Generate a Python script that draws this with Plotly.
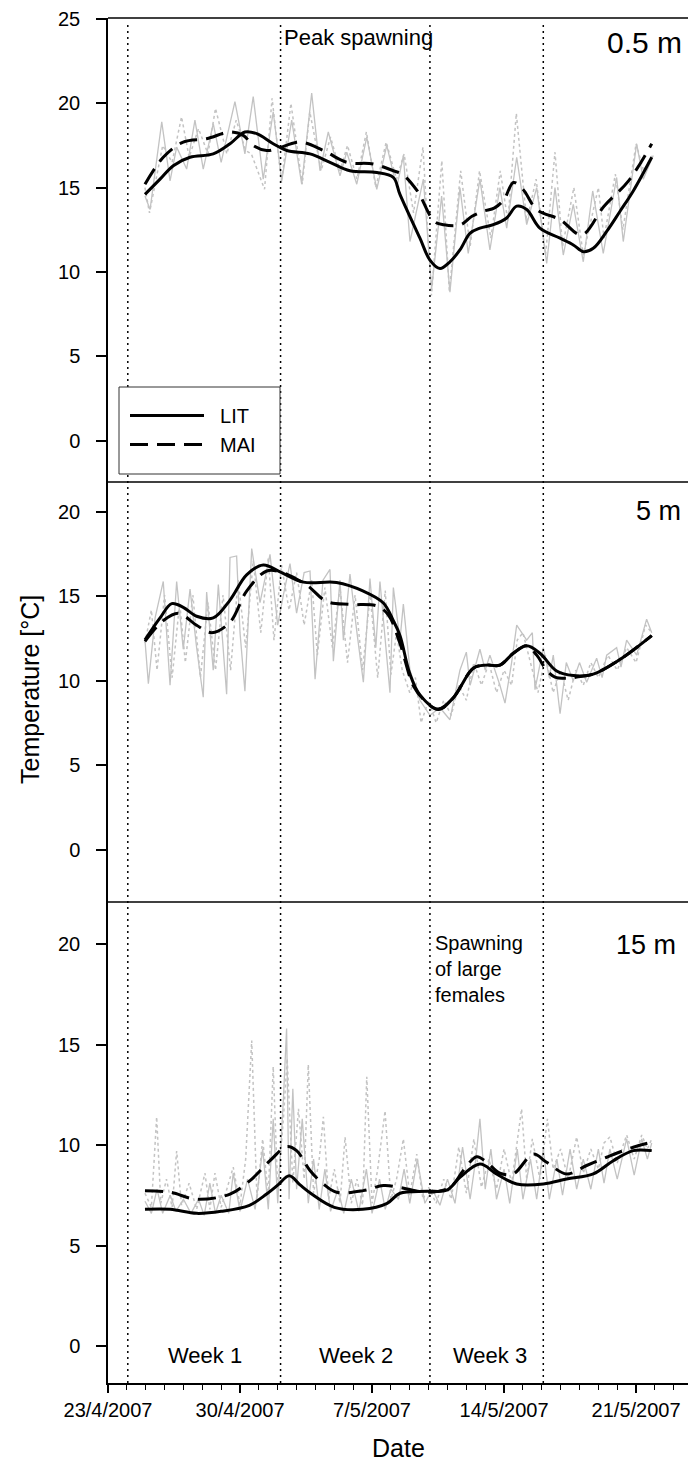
import pandas as pd
import plotly.graph_objects as go

START = pd.Timestamp("2007-04-23")


def to_dates(days):
    return [START + pd.Timedelta(days=float(d)) for d in days]


# ---------------- data (days since 23/4/2007 00:00, temperature in degC) -----------
# 0.5 m
p1_lit_day = [1.96, 2.76, 3.46, 4.35, 5.58, 6.47, 7.26, 7.88, 8.76, 9.48, 10.71, 11.77, 12.83, 14.25,
              15.13, 15.48, 16.54, 17.07, 17.6, 18.13, 18.66, 19.2, 19.72, 20.43, 21.14, 21.67, 22.2,
              22.9, 23.97, 24.67, 25.2, 25.73, 26.44, 27.15, 27.85, 28.83]
p1_lit_temp = [14.6, 15.5, 16.3, 16.8, 17.0, 17.6, 18.3, 18.2, 17.6, 17.2, 17.0, 16.5, 16.0, 15.9,
               15.6, 14.6, 12.0, 10.7, 10.2, 10.6, 11.3, 12.3, 12.6, 12.8, 13.2, 13.9, 13.7,
               12.6, 12.0, 11.6, 11.2, 11.4, 12.4, 13.6, 14.8, 16.8]
p1_mai_day = [1.96, 2.93, 3.99, 5.23, 6.47, 7.17, 7.7, 8.41, 8.94, 10.18, 11.42, 12.66, 14.07, 15.13,
              15.6, 16.4, 17.3, 17.8, 18.7, 19.3, 19.9, 20.5, 21.0, 21.5, 22.0, 22.73, 23.97, 25.12,
              26.3, 27.6, 28.83]
p1_mai_temp = [15.2, 16.8, 17.7, 17.9, 18.3, 18.1, 17.5, 17.2, 17.3, 17.7, 17.2, 16.5, 16.4, 16.0,
               15.8, 14.8, 13.0, 12.8, 12.8, 13.3, 13.6, 13.8, 14.3, 15.3, 14.9, 13.7, 13.1, 12.2,
               13.9, 15.4, 17.6]
p1_lit_raw_day = [1.96, 2.23, 2.85, 3.29, 3.64, 4.17, 4.61, 5.05, 5.58, 6.0, 6.73, 7.26, 7.7, 8.23,
                  8.76, 9.21, 9.74, 10.27, 10.8, 11.24, 11.68, 12.3, 12.66, 13.19, 13.72, 14.25,
                  14.78, 15.31, 15.66, 16.01, 16.72, 17.16, 17.69, 18.13, 18.66, 19.1, 19.72, 20.25,
                  20.78, 21.14, 21.67, 22.2, 22.73, 23.26, 23.7, 24.14, 24.67, 25.2, 25.7, 26.26,
                  26.97, 27.32, 28.03, 28.38, 28.91]
p1_lit_raw_temp = [14.5, 13.7, 18.9, 15.4, 17.4, 16.1, 19.0, 16.1, 18.8, 16.5, 20.1, 17.0, 20.4, 15.5,
                   19.5, 15.4, 19.0, 15.2, 20.6, 16.0, 18.3, 15.7, 17.1, 15.2, 18.0, 14.9,
                   17.5, 15.0, 16.9, 11.8, 15.5, 9.0, 14.5, 8.8, 15.0, 11.1, 15.5, 11.3,
                   15.0, 12.6, 16.8, 12.8, 15.0, 10.5, 15.0, 11.0, 14.0, 10.6, 14.8, 11.1,
                   15.6, 11.8, 17.6, 15.5, 16.9]
p1_mai_raw_day = [1.96, 2.2, 2.9, 3.4, 3.9, 4.3, 4.8, 5.3, 5.7, 6.3, 6.8, 7.3, 7.6, 8.3, 8.7, 9.2,
                  9.7, 10.3, 10.7, 11.3, 11.8, 12.3, 12.7, 13.2, 13.7, 14.2, 14.75, 15.3, 15.7, 16.2,
                  16.7, 17.15, 17.7, 18.1, 18.7, 19.2, 19.7, 20.3, 20.8, 21.2, 21.65, 22.2, 22.7,
                  23.2, 23.7, 24.1, 24.7, 25.2, 26.0, 26.3, 26.9, 27.3, 28.0, 28.4, 28.9]
p1_mai_raw_temp = [15.0, 13.5, 17.5, 16.5, 19.2, 16.8, 18.5, 17.0, 19.7, 17.0, 19.0, 17.2, 17.0, 14.9,
                   20.3, 15.3, 20.0, 15.2, 19.5, 16.0, 18.0, 16.0, 17.5, 15.5, 18.3, 15.0, 17.7,
                   15.5, 17.0, 13.5, 17.4, 8.6, 16.6, 8.8, 16.0, 11.5, 16.0, 12.0, 16.0, 13.0,
                   19.4, 13.0, 15.5, 11.0, 17.1, 11.5, 15.0, 11.0, 15.0, 12.0, 15.8, 12.5, 17.6,
                   16.0, 17.0]

# 5 m
p2_lit_day = [1.96, 2.76, 3.38, 3.99, 4.7, 5.58, 6.47, 7.35, 8.23, 9.12, 10.36, 12.12, 13.54, 14.6,
              15.13, 15.48, 16.01, 16.54, 17.51, 18.31, 19.37, 20.08, 20.78, 21.49, 22.2, 22.9, 23.79,
              24.67, 25.73, 27.15, 28.83]
p2_lit_temp = [12.4, 13.7, 14.55, 14.33, 13.8, 13.7, 14.76, 16.25, 16.83, 16.43, 15.82, 15.8, 15.29,
               14.59, 13.54, 12.66, 10.38, 9.15, 8.31, 8.98, 10.73, 10.91, 10.91, 11.61, 12.05,
               11.61, 10.56, 10.29, 10.38, 11.25, 12.66]
p2_mai_day = [1.96, 2.93, 3.73, 4.7, 5.5, 6.47, 7.35, 8.41, 9.12, 10.54, 11.6, 12.83, 14.25, 14.86,
              15.48, 16.19, 16.72, 17.51, 18.31, 19.37, 20.08, 20.78, 21.49, 22.2, 22.73, 23.26, 23.7,
              24.3, 24.85, 25.73, 27.15, 28.83]
p2_mai_temp = [12.31, 13.54, 13.98, 13.27, 12.83, 13.45, 15.29, 16.48, 16.43, 15.64, 14.67, 14.5,
               14.41, 13.89, 12.2, 9.68, 8.89, 8.28, 8.98, 10.73, 10.91, 10.91, 11.61, 12.05, 11.5,
               10.6, 10.2, 10.13, 10.2, 10.38, 11.25, 12.66]
p2_lit_raw_day = [1.96, 2.14, 2.5, 2.93, 3.29, 3.64, 3.99, 4.35, 4.7, 5.05, 5.23, 5.58, 5.85, 6.29,
                  6.47, 6.82, 7.0, 7.26, 7.62, 8.06, 8.59, 9.0, 9.3, 9.65, 10.0, 10.4, 10.71, 10.98,
                  11.4, 11.77, 11.95, 12.3, 12.48, 12.83, 13.2, 13.54, 13.89, 14.2, 14.42, 14.95,
                  15.13, 15.48, 15.66, 16.01, 16.54, 17.07, 17.6, 18.13, 18.66, 19.0, 19.2, 19.72,
                  20.0, 20.25, 20.78, 21.05, 21.4, 21.67, 22.2, 22.5, 22.64, 23.08, 23.4, 23.61,
                  23.97, 24.3, 24.67, 25.0, 25.38, 25.91, 26.2, 26.44, 26.97, 27.2, 27.5, 28.03,
                  28.56, 28.83]
p2_lit_raw_temp = [12.39, 9.81, 13.72, 15.86, 9.72, 15.86, 11.85, 15.41, 11.94, 9.01, 15.23, 10.61,
                   15.68, 9.19, 17.28, 17.37, 12.83, 9.37, 17.81, 14.61, 17.46, 13.28, 15.06, 16.92,
                   13.99, 16.39, 16.48, 10.08, 15.94, 16.57, 11.14, 15.94, 12.39, 16.3, 12.83, 9.9,
                   16.03, 11.94, 15.86, 9.28, 15.5, 12.39, 14.52, 10.61, 8.83, 7.94, 8.39, 7.68,
                   10.61, 11.68, 9.72, 11.85, 10.61, 11.5, 9.72, 8.66, 11.06, 13.28, 12.39, 12.83,
                   9.46, 11.94, 10.17, 11.5, 8.03, 11.06, 9.99, 11.06, 9.9, 11.32, 10.17, 11.5,
                   11.94, 10.79, 12.39, 11.5, 13.63, 12.83]
p2_mai_raw_day = [1.96, 2.3, 2.6, 3.0, 3.4, 3.8, 4.1, 4.5, 4.9, 5.3, 5.7, 6.1, 6.5, 6.9, 7.3, 7.7,
                  8.1, 8.5, 8.8, 9.2, 9.6, 10.0, 10.4, 10.8, 11.1, 11.5, 11.9, 12.3, 12.7, 13.1,
                  13.5, 13.9, 14.3, 14.7, 15.0, 15.3, 15.6, 16.0, 16.3, 16.6, 17.0, 17.4, 17.8,
                  18.2, 18.6, 19.0, 19.4, 19.8, 20.2, 20.6, 21.0, 21.4, 21.7, 22.0, 22.4, 22.8,
                  23.2, 23.6, 24.0, 24.4, 24.8, 25.2, 25.6, 26.0, 26.5, 27.0, 27.5, 28.0, 28.5,
                  28.83]
p2_mai_raw_temp = [12.21, 14.17, 10.61, 15.06, 10.17, 14.61, 11.06, 15.06, 10.17, 14.61, 10.61, 15.06,
                   10.61, 15.94, 11.94, 17.1, 12.83, 17.28, 12.39, 16.83, 14.17, 16.39, 13.28, 15.94,
                   11.5, 15.5, 11.94, 15.5, 11.06, 15.06, 10.61, 15.06, 10.17, 15.32, 10.34, 12.83,
                   10.61, 9.28, 10.17, 7.5, 8.83, 7.5, 8.83, 7.94, 9.72, 8.83, 11.06, 9.72, 11.06,
                   9.28, 10.61, 9.72, 12.39, 12.83, 11.06, 9.28, 11.5, 9.28, 10.61, 8.83, 10.61,
                   9.72, 11.06, 10.17, 11.5, 10.61, 11.94, 11.06, 13.28, 12.83]

# 15 m
p3_lit_day = [1.96, 3.3, 4.7, 6.0, 7.5, 8.41, 9.0, 9.61, 10.2, 10.8, 12.0, 13.5, 14.8, 15.48, 16.9,
              17.96, 18.66, 19.72, 20.6, 21.67, 23.08, 24.32, 25.73, 26.79, 27.85, 28.83]
p3_lit_temp = [6.8, 6.8, 6.6, 6.7, 7.0, 7.56, 8.0, 8.47, 8.0, 7.56, 6.9, 6.8, 7.1, 7.6, 7.7,
               7.75, 8.39, 9.05, 8.56, 8.06, 8.06, 8.31, 8.56, 9.22, 9.72, 9.72]
p3_mai_day = [1.96, 3.29, 4.7, 6.47, 7.53, 8.59, 9.47, 10.0, 10.71, 11.42, 12.12, 13.54, 14.6, 15.48,
              16.9, 18.13, 18.84, 19.55, 20.08, 20.78, 21.49, 22.55, 23.26, 24.32, 25.38, 26.44,
              27.85, 28.83]
p3_mai_temp = [7.73, 7.65, 7.3, 7.56, 8.23, 9.22, 9.92, 9.72, 8.73, 8.06, 7.65, 7.73, 7.98, 7.89,
               7.65, 7.89, 8.73, 9.42, 9.14, 8.6, 8.56, 9.55, 9.14, 8.56, 8.98, 9.39, 9.89, 10.14]
p3_lit_raw_day = [1.96, 2.3, 2.6, 2.9, 3.3, 3.6, 4.0, 4.4, 4.8, 5.1, 5.4, 5.7, 6.0, 6.4, 6.64, 7.0,
                  7.4, 7.8, 8.2, 8.5, 8.76, 9.0, 9.3, 9.47, 9.6, 9.8, 10.0, 10.3, 10.62, 10.9,
                  11.2, 11.5, 11.8, 12.2, 12.5, 12.9, 13.3, 13.7, 14.0, 14.4, 14.7, 15.0, 15.4,
                  15.7, 16.0, 16.4, 16.8, 17.2, 17.6, 18.0, 18.4, 18.8, 19.2, 19.5, 19.72, 20.0,
                  20.3, 20.6, 21.0, 21.3, 21.7, 22.0, 22.4, 22.73, 23.08, 23.4, 23.8, 24.1, 24.5,
                  24.85, 25.2, 25.6, 26.0, 26.3, 26.61, 27.0, 27.5, 27.9, 28.3, 28.6, 28.83]
p3_lit_raw_temp = [7.2, 6.6, 7.8, 6.6, 7.5, 6.7, 7.3, 6.6, 7.3, 6.5,
                   8.1, 6.6, 7.5, 6.6, 8.6, 6.7, 8.3, 6.8, 9.8, 6.8,
                   11.3, 7.1, 12.3, 15.8, 7.3, 12.8, 7.8, 11.3, 7.1, 9.3,
                   6.8, 8.8, 6.7, 7.8, 6.6, 8.3, 6.7, 8.8, 6.6, 8.3,
                   6.8, 7.8, 7.3, 8.8, 7.1, 9.3, 7.1, 7.8, 7.0, 8.3,
                   7.1, 9.9, 7.3, 9.3, 11.3, 7.8, 9.8, 7.3, 8.8, 7.1,
                   9.8, 7.3, 9.3, 7.3, 9.8, 7.3, 9.3, 7.5, 9.8, 7.8,
                   9.3, 7.8, 9.8, 8.1, 9.8, 8.3, 10.3, 8.5, 10.3, 9.3,
                   10.1]
p3_mai_raw_day = [1.96, 2.3, 2.58, 2.8, 3.1, 3.4, 3.64, 3.9, 4.3, 4.7, 5.14, 5.4, 5.67, 6.0, 6.3,
                  6.64, 7.0, 7.3, 7.62, 7.9, 8.2, 8.5, 8.76, 9.0, 9.3, 9.5, 9.8, 10.1, 10.4, 10.62,
                  10.9, 11.2, 11.42, 11.7, 12.0, 12.3, 12.57, 12.9, 13.2, 13.5, 13.72, 14.0, 14.3,
                  14.69, 15.0, 15.3, 15.66, 16.0, 16.37, 16.7, 17.0, 17.4, 17.8, 18.2, 18.6, 19.0,
                  19.4, 19.8, 20.2, 20.6, 21.0, 21.4, 21.93, 22.2, 22.5, 22.9, 23.3, 23.6, 24.0,
                  24.4, 24.85, 25.2, 25.6, 26.0, 26.3, 26.61, 27.0, 27.5, 27.9, 28.3, 28.6, 28.83]
p3_mai_raw_temp = [7.6, 6.9, 11.4, 7.1, 8.3, 6.9, 9.7, 7.0, 8.1, 6.8,
                   8.6, 6.8, 8.6, 6.9, 7.8, 8.9, 7.0, 9.3, 15.2, 7.3,
                   10.3, 7.5, 13.9, 7.8, 11.3, 14.3, 8.1, 11.8, 8.3, 14.0,
                   7.6, 9.3, 11.4, 7.3, 8.8, 7.1, 10.4, 7.1, 8.3, 7.0,
                   13.4, 7.1, 8.8, 11.7, 7.3, 8.3, 10.3, 7.5, 9.55, 7.3,
                   7.9, 7.1, 8.3, 7.3, 9.9, 7.6, 10.3, 7.9, 9.3, 7.8,
                   9.8, 8.1, 11.8, 8.3, 10.3, 8.3, 11.3, 8.8, 9.8, 8.3,
                   10.4, 8.6, 9.8, 8.8, 10.1, 10.4, 9.1, 10.5, 9.3, 10.5,
                   9.8, 10.3]

# vertical reference lines (days since 23/4/2007) and labels
marker_days = [1.05, 9.15, 17.07, 23.08]
week_labels = ["Week 1", "Week 2", "Week 3"]
week_days = [5.14, 13.15, 20.25]
depth_labels = ["0.5 m", "5 m", "15 m"]
series_names = ["LIT", "MAI"]

# ---------------- layout geometry ----------------
W, H = 688, 1465
ML, MR, MT, MB = 108, 0, 18, 82
PH = H - MT - MB  # 1365
PW = W - ML - MR  # 580
b1, b2 = 482, 902  # panel boundary rows (px)
dom3 = [0.0, (H - MB - b2) / PH]
dom2 = [dom3[1], (H - MB - b1) / PH]
dom1 = [dom2[1], 1.0]


def py(px):  # pixel row -> paper y
    return (H - MB - px) / PH


def pxx(px):  # pixel column -> paper x
    return (px - ML) / PW


FONT = "Liberation Sans, Arial, Helvetica, sans-serif"
GREY = "#c3c3c3"

fig = go.Figure()

panels = [
    ("y", p1_lit_raw_day, p1_lit_raw_temp, p1_mai_raw_day, p1_mai_raw_temp,
     p1_lit_day, p1_lit_temp, p1_mai_day, p1_mai_temp),
    ("y2", p2_lit_raw_day, p2_lit_raw_temp, p2_mai_raw_day, p2_mai_raw_temp,
     p2_lit_day, p2_lit_temp, p2_mai_day, p2_mai_temp),
    ("y3", p3_lit_raw_day, p3_lit_raw_temp, p3_mai_raw_day, p3_mai_raw_temp,
     p3_lit_day, p3_lit_temp, p3_mai_day, p3_mai_temp),
]

for i, (ya, lrd, lrt, mrd, mrt, ld, lt, md, mt) in enumerate(panels):
    fig.add_trace(go.Scatter(x=to_dates(mrd), y=mrt, mode="lines", yaxis=ya, xaxis="x",
                             line=dict(color=GREY, width=1.5, dash="dot"), showlegend=False,
                             hoverinfo="skip"))
    fig.add_trace(go.Scatter(x=to_dates(lrd), y=lrt, mode="lines", yaxis=ya, xaxis="x",
                             line=dict(color=GREY, width=1.3), showlegend=False,
                             hoverinfo="skip"))
for i, (ya, lrd, lrt, mrd, mrt, ld, lt, md, mt) in enumerate(panels):
    fig.add_trace(go.Scatter(x=to_dates(ld), y=lt, mode="lines", yaxis=ya, xaxis="x",
                             name="\u00a0\u00a0" + series_names[0], showlegend=(i == 0),
                             line=dict(color="black", width=3, shape="spline", smoothing=1.0)))
    fig.add_trace(go.Scatter(x=to_dates(md), y=mt, mode="lines", yaxis=ya, xaxis="x",
                             name="\u00a0\u00a0" + series_names[1], showlegend=(i == 0),
                             line=dict(color="black", width=3, shape="spline", smoothing=1.0,
                                       dash="18px,9px")))


def yr(zero_px, px_per_unit, top_px, bot_px):
    return [(zero_px - bot_px) / px_per_unit, (zero_px - top_px) / px_per_unit]


ya_common = dict(showgrid=False, zeroline=False, showline=True, linecolor="black", linewidth=1.5,
                 ticks="outside", ticklen=10, tickwidth=1.5, tickcolor="black",
                 ticklabelstandoff=12,
                 tickfont=dict(family=FONT, size=20, color="black"), anchor="x")

x_end = START + pd.Timedelta(days=PW / 18.86)

fig.update_layout(
    width=W, height=H,
    margin=dict(l=ML, r=MR, t=MT, b=MB),
    paper_bgcolor="white", plot_bgcolor="white",
    font=dict(family=FONT, color="black"),
    xaxis=dict(type="date", domain=[0, 1], anchor="y3", range=[START, x_end],
               tick0="2007-04-23", dtick=7 * 86400000, tickformat="%-d/%-m/%Y",
               ticks="outside", ticklen=8, tickwidth=1.5, tickcolor="black",
               showline=True, linecolor="black", linewidth=1.5, showgrid=False, zeroline=False,
               tickfont=dict(family=FONT, size=20, color="black"),
               minor=dict(dtick=86400000, ticks="outside", ticklen=5, tickwidth=1,
                          tickcolor="black", showgrid=False)),
    yaxis=dict(domain=dom1, range=yr(440.5, 16.86, 18, 482), tickvals=[0, 5, 10, 15, 20, 25],
               **ya_common),
    yaxis2=dict(domain=dom2, range=yr(849.5, 16.9, 482, 902), tickvals=[0, 5, 10, 15, 20],
                **ya_common),
    yaxis3=dict(domain=dom3, range=yr(1346, 20.1, 902, 1383), tickvals=[0, 5, 10, 15, 20],
                **ya_common),
    legend=dict(x=pxx(125), y=py(396), xanchor="left", yanchor="top",
                bgcolor="rgba(0,0,0,0)", borderwidth=0,
                font=dict(family=FONT, size=20, color="black"), itemwidth=74,
                traceorder="normal"),
    showlegend=True,
)

shapes = []
for d in marker_days:
    xd = START + pd.Timedelta(days=d)
    shapes.append(dict(type="line", xref="x", yref="paper", x0=xd, x1=xd, y0=0, y1=0.996,
                       line=dict(color="black", width=1.5, dash="2px,4px"), layer="above"))
for yb in (dom1[0], dom2[0], 1.0):
    shapes.append(dict(type="line", xref="paper", yref="paper", x0=0, x1=1, y0=yb, y1=yb,
                       line=dict(color="black", width=1.5)))
# legend frame
shapes.append(dict(type="rect", xref="paper", yref="paper", x0=pxx(119), x1=pxx(280),
                   y0=py(474), y1=py(387), fillcolor="white",
                   line=dict(color="#333333", width=1), layer="above"))
fig.update_layout(shapes=shapes)

ann = []
for lab, ypx, size, right in zip(depth_labels, [42, 511, 945], [30, 27, 27], [684, 683, 678]):
    ann.append(dict(text=lab, xref="paper", yref="paper", x=pxx(right), xanchor="right",
                    y=py(ypx), yanchor="middle", showarrow=False,
                    font=dict(family=FONT, size=size, color="black")))
ann.append(dict(text="Peak spawning", xref="x", yref="paper",
                x=START + pd.Timedelta(days=marker_days[1]), xanchor="left", xshift=1,
                y=py(38), yanchor="middle", showarrow=False,
                font=dict(family=FONT, size=22, color="black")))
ann.append(dict(text="Spawning<br>of large<br>females", xref="x", yref="paper",
                x=START + pd.Timedelta(days=marker_days[2]), xanchor="left", xshift=3,
                y=py(969), yanchor="middle", align="left", showarrow=False,
                font=dict(family=FONT, size=20, color="black")))
for lab, d in zip(week_labels, week_days):
    ann.append(dict(text=lab, xref="x", yref="paper", x=START + pd.Timedelta(days=d),
                    xanchor="center", y=py(1355), yanchor="middle", showarrow=False,
                    font=dict(family=FONT, size=22, color="black")))
ann.append(dict(text="Date", xref="paper", yref="paper", x=0.5, xanchor="center",
                y=py(1448), yanchor="middle", showarrow=False,
                font=dict(family=FONT, size=25, color="black")))
ann.append(dict(text="Temperature [°C]", xref="paper", yref="paper", x=pxx(30),
                xanchor="center", y=py(690), yanchor="middle", textangle=-90,
                showarrow=False, font=dict(family=FONT, size=25, color="black")))
fig.update_layout(annotations=ann)

fig.write_html("out.html")
